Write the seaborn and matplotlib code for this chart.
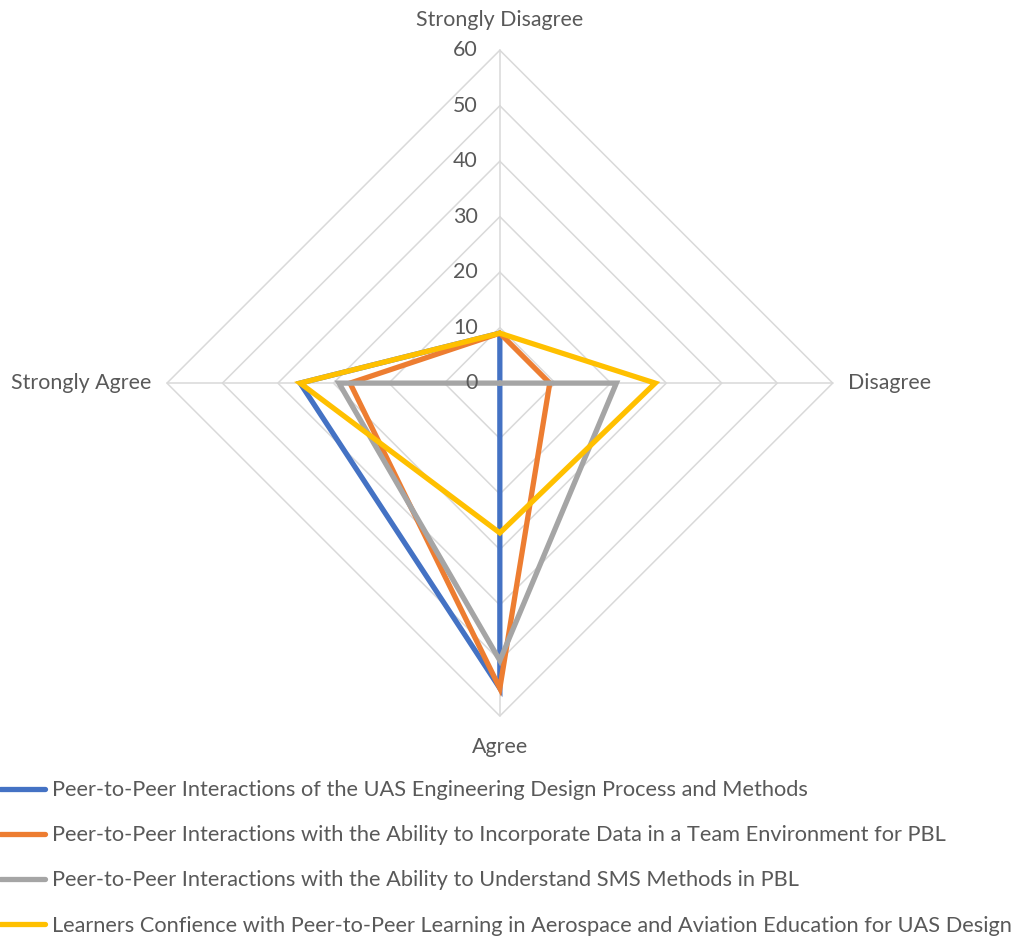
import numpy as np
import pandas as pd
import matplotlib
matplotlib.use("Agg")
import matplotlib.pyplot as plt
from matplotlib.lines import Line2D
import seaborn as sns

# Survey response categories (clockwise from the top)
categories = ["Strongly Disagree", "Disagree", "Agree", "Strongly Agree"]

# Percent of responses per category for each survey item
series_names = [
    "Peer-to-Peer Interactions of the UAS Engineering Design Process and Methods",
    "Peer-to-Peer Interactions with the Ability to Incorporate Data in a Team Environment for PBL",
    "Peer-to-Peer Interactions with the Ability to Understand SMS Methods in PBL",
    "Learners Confience with Peer-to-Peer Learning in Aerospace and Aviation Education for UAS Design",
]
design_process = [9, 0, 55, 36]
incorporate_data = [9, 9, 55, 27]
sms_methods = [0, 21, 50, 29]
learner_confidence = [9, 28, 27, 36]

radial_ticks = [0, 10, 20, 30, 40, 50, 60]
colors = ["#4472C4", "#ED7D31", "#A5A5A5", "#FFC000"]
text_color = "#595959"
grid_color = "#D9D9D9"

sns.set_theme(style="white")
plt.rcParams["font.family"] = ["Lato", "DejaVu Sans"]
FS = 15.4
LEG_FS = 15.7

# Long-form table: one closed loop per survey item
angles = np.linspace(0, 2 * np.pi, len(categories), endpoint=False)
rows = []
for name, vals in zip(series_names,
                      [design_process, incorporate_data, sms_methods, learner_confidence]):
    for th, v in zip(list(angles) + [2 * np.pi], list(vals) + [vals[0]]):
        rows.append({"series": name, "theta": th, "value": v})
df = pd.DataFrame(rows)

fig = plt.figure(figsize=(10.18, 9.39), dpi=100)
ax = fig.add_axes([0.164, 0.2375, 0.654, 0.709], projection="polar")
ax.set_theta_zero_location("N")
ax.set_theta_direction(-1)
ax.set_ylim(0, 60)
ax.grid(False)
ax.spines["polar"].set_visible(False)
ax.set_xticks([])
ax.set_yticks([])
ax.set_facecolor("none")

# Polygonal grid rings and spokes
ring_theta = list(angles) + [2 * np.pi]
for r in radial_ticks[1:]:
    ax.plot(ring_theta, [r] * len(ring_theta), color=grid_color, lw=1.1, zorder=1,
            clip_on=False)
for th in angles:
    ax.plot([th, th], [0, 60], color=grid_color, lw=1.1, zorder=1, clip_on=False)

sns.lineplot(data=df, x="theta", y="value", hue="series", hue_order=series_names,
             palette=colors, sort=False, estimator=None, linewidth=3.8,
             legend=False, ax=ax, zorder=3, clip_on=False, solid_joinstyle="miter")
ax.set_xlabel("")
ax.set_ylabel("")

# Radial value labels beside the top spoke
for r in radial_ticks:
    ax.annotate(str(r), xy=(0, r), xytext=(-16, 0), textcoords="offset points",
                ha="right", va="center", fontsize=FS, color=text_color,
                annotation_clip=False)

# Category labels outside the outer ring
offsets = [((0, 22), "center", "center"),
           ((11, 0), "left", "center"),
           ((0, -22), "center", "center"),
           ((-11, 0), "right", "center")]
for th, cat, (off, ha, va) in zip(angles, categories, offsets):
    ax.annotate(cat, xy=(th, 60), xytext=off, textcoords="offset points",
                ha=ha, va=va, fontsize=FS, color=text_color, annotation_clip=False)

handles = [Line2D([0], [0], color=c, lw=3.8) for c in colors]
leg = fig.legend(handles, series_names, loc="upper left",
                 bbox_to_anchor=(0.0, 0.169), frameon=False, fontsize=LEG_FS,
                 handlelength=2.06, handletextpad=0.32, labelspacing=1.15,
                 borderaxespad=0, borderpad=0)
for t in leg.get_texts():
    t.set_color(text_color)

fig.savefig("out.png", dpi=100, facecolor="white")
